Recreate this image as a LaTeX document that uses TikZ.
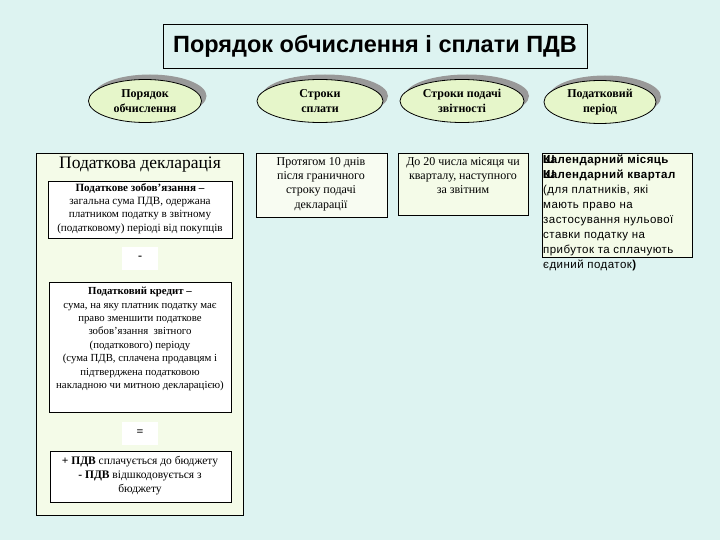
\documentclass[tikz,border=0pt]{standalone}
\usepackage{fontspec}
\setmainfont{Liberation Serif}
\newfontfamily\arialf{Liberation Sans}
\newfontfamily\arialsp[LetterSpace=4]{Liberation Sans}
\usetikzlibrary{shapes.geometric,shadows}
\definecolor{bgc}{RGB}{221,243,241}
\definecolor{ellc}{RGB}{230,246,202}
\definecolor{boxc}{RGB}{244,251,232}
\definecolor{boxd}{RGB}{248,252,242}
\tikzset{
  oval/.style={ellipse, draw=black, line width=0.8pt, fill=ellc, inner sep=0pt, minimum height=43pt,
    align=center, font=\bfseries\fontsize{12}{15}\selectfont,
    general shadow={fill=gray!80, shadow xshift=5pt, shadow yshift=5pt}},
  framebox/.style={draw=black, line width=0.8pt, inner sep=0pt, anchor=north west},
  whitebox/.style={fill=white, inner sep=0pt, anchor=north west},
  boxtext/.style={inner sep=0pt, align=center, anchor=north, font=\fontsize{11.1}{13.4}\selectfont},
  sanstext/.style={inner sep=0pt, align=left, anchor=north west, font=\arialsp\fontsize{11.5}{15}\selectfont}
}
\begin{document}
\begin{tikzpicture}[x=1pt,y=-1pt]
\fill[bgc] (0,0) rectangle (720,540);
\useasboundingbox (0,0) rectangle (720,540);

% title
\node[framebox, fill=bgc, minimum width=424pt, minimum height=44pt] (title) at (163,24) {};
\node[inner sep=0pt, font=\arialf\bfseries\fontsize{23.5}{26}\selectfont] (titletext) at (375,46) {Порядок обчислення і сплати ПДВ};

% ellipses
\node[oval, minimum width=113pt] (e1) at (145,101) {Порядок\\обчислення};
\node[oval, minimum width=126pt] (e2) at (320,101) {Строки\\сплати};
\node[oval, minimum width=124pt] (e3) at (462,101) {Строки подачі\\звітності};
\node[oval, minimum width=112pt] (e4) at (600,102) {Податковий\\період};

% left column
\node[framebox, fill=boxc, minimum width=207pt, minimum height=362pt] (decl) at (36,153) {};
\node[inner sep=0pt, font=\fontsize{17.5}{20}\selectfont] (decltitle) at (140,165) {Податкова декларація};

\node[framebox, fill=white, minimum width=184pt, minimum height=57pt] (b1) at (48,181) {};
\node[boxtext] (b1text) at (140,183) {\textbf{Податкове зобов'язання –}\\загальна сума ПДВ, одержана\\платником податку в звітному\\(податковому) періоді від покупців};

\node[whitebox, minimum width=36pt, minimum height=23pt] (minus) at (122,247) {};
\node[inner sep=0pt, font=\bfseries\fontsize{12}{13}\selectfont] (minustext) at (140,258) {-};

\node[framebox, fill=white, minimum width=182pt, minimum height=130pt] (b2) at (49,282) {};
\node[boxtext, font=\fontsize{10.8}{13.4}\selectfont] (b2text) at (140,287) {\textbf{Податковий кредит –}\\сума, на яку платник податку має\\право зменшити податкове\\зобов’язання~ звітного\\(податкового) періоду\\(сума ПДВ, сплачена продавцям і\\підтверджена податковою\\накладною чи митною декларацією)};

\node[whitebox, minimum width=36pt, minimum height=23pt] (eq) at (122,422) {};
\node[inner sep=0pt, font=\bfseries\fontsize{12}{13}\selectfont] (eqtext) at (140,433) {=};

\node[framebox, fill=white, minimum width=181pt, minimum height=51pt] (b3) at (50,451) {};
\node[boxtext, font=\fontsize{11.5}{14}\selectfont] (b3text) at (140,456) {\textbf{+ ПДВ} сплачується до бюджету\\\textbf{- ПДВ} відшкодовується з\\бюджету};

% column 2
\node[framebox, fill=boxd, minimum width=131pt, minimum height=64pt] (c2) at (256,153) {};
\node[boxtext, font=\fontsize{12}{14.3}\selectfont] (c2text) at (321,157) {Протягом 10 днів\\після граничного\\строку подачі\\декларації};

% column 3
\node[framebox, fill=boxc, minimum width=130pt, minimum height=62pt] (c3) at (398,153) {};
\node[boxtext, font=\fontsize{12}{14.3}\selectfont] (c3text) at (463,157) {До 20 числа місяця чи\\кварталу, наступного\\за звітним};

% column 4
\node[framebox, fill=boxc, minimum width=150pt, minimum height=104pt] (c4) at (542,153) {};
\node[sanstext] (c4text) at (543,155) {\textbf{\rlap{Ш}Календарний місяць}\\\textbf{\rlap{Ш}Календарний квартал}\\(для платників, які\\мають право на\\застосування нульової\\ставки податку на\\прибуток та сплачують\\єдиний податок\textbf{)}};
\end{tikzpicture}
\end{document}
